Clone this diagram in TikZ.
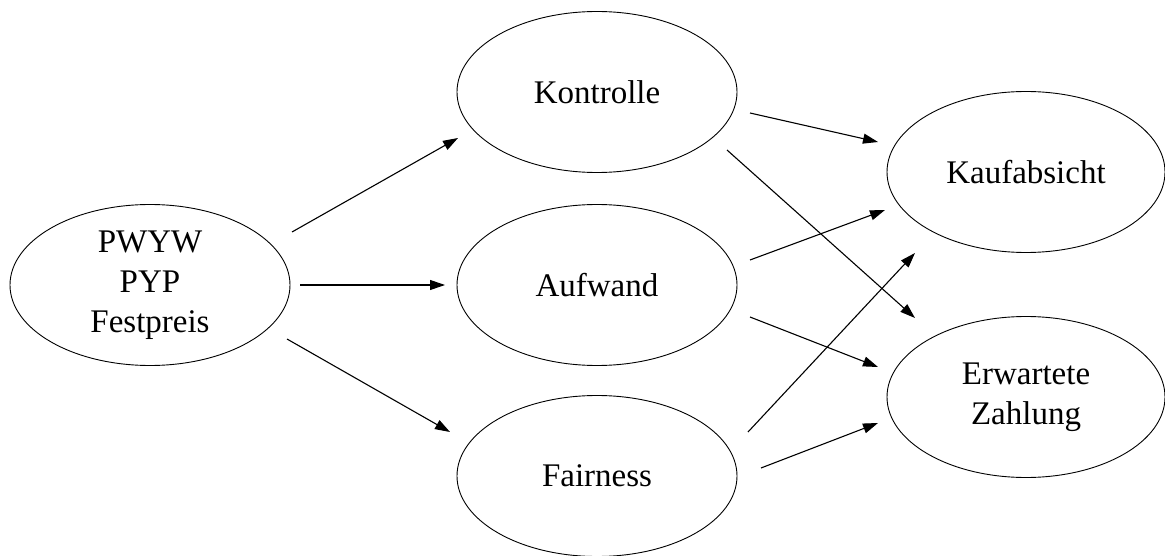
\documentclass[tikz,border=0pt]{standalone}
\usepackage{fontspec}
\setmainfont{Liberation Serif}
\usetikzlibrary{shapes.geometric,arrows.meta}
\begin{document}
\begin{tikzpicture}[x=1pt,y=-1pt,
  oval/.style={draw,ellipse,line width=0.9pt,minimum width=280pt,minimum height=161pt,inner sep=0pt,
    font=\fontsize{33}{40}\selectfont,align=center},
  arr/.style={line width=1.1pt,-{Triangle[length=15pt,width=10pt]}}]
\useasboundingbox (0,0) rectangle (1165,556);
\node[oval] (pw) at (150,285) {PWYW\\PYP\\Festpreis};
\node[oval] (ko) at (597,92) {Kontrolle};
\node[oval] (au) at (597,285) {Aufwand};
\node[oval] (fa) at (597,476) {Fairness};
\node[oval,minimum width=278pt] (ka) at (1026,172) {Kaufabsicht};
\node[oval,minimum width=278pt] (ez) at (1026,397) {Erwartete\\Zahlung};
\coordinate (s1) at (292,232); \coordinate (e1) at (458,138);
\coordinate (s2) at (300,285); \coordinate (e2) at (445,285);
\coordinate (s3) at (287,339); \coordinate (e3) at (450,432);
\coordinate (s4) at (750,113); \coordinate (e4) at (878,142);
\coordinate (s5) at (727,150); \coordinate (e5) at (915,318);
\coordinate (s6) at (750,260); \coordinate (e6) at (885,210);
\coordinate (s7) at (750,317); \coordinate (e7) at (878,367);
\coordinate (s8) at (748,432); \coordinate (e8) at (915,253);
\coordinate (s9) at (761,468); \coordinate (e9) at (878,423);
\foreach \i in {1,...,9} \draw[arr] (s\i) -- (e\i);
\end{tikzpicture}
\end{document}
